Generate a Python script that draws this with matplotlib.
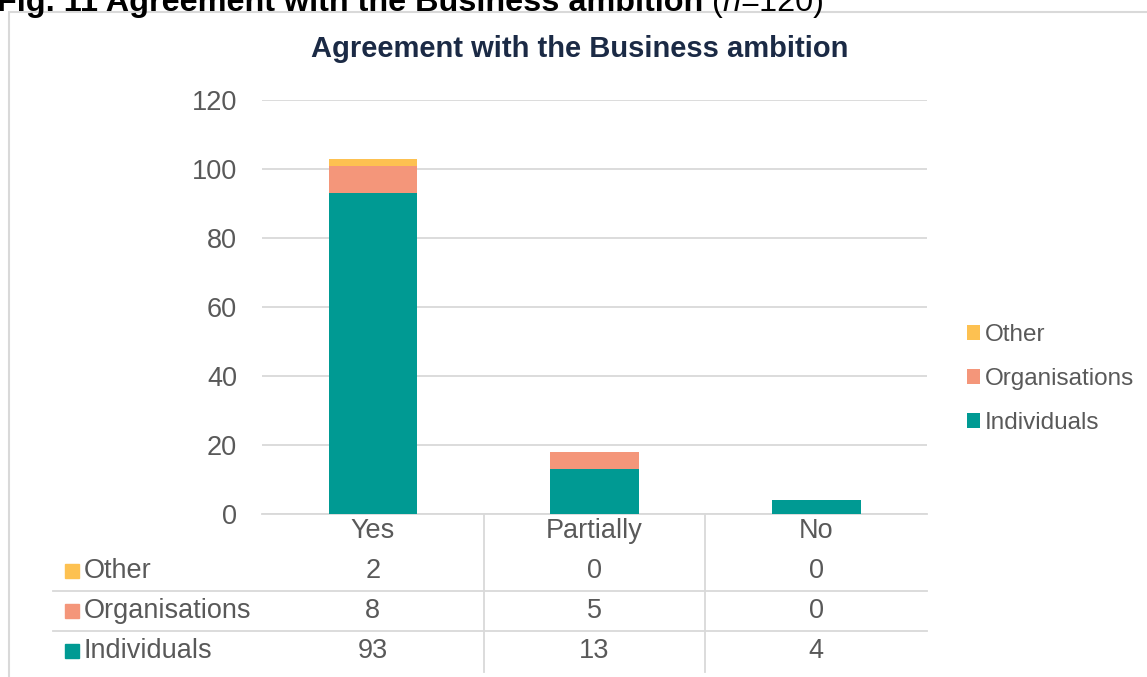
import matplotlib.pyplot as plt
import matplotlib.transforms as mtransforms
from matplotlib.patches import Rectangle
import numpy as np

plt.rcParams['font.family'] = ['Liberation Sans', 'DejaVu Sans']

# responses per answer, stacked bottom to top
answers = ["Yes", "Partially", "No"]
individuals = [93, 13, 4]
organisations = [8, 5, 0]
other = [2, 0, 0]

series_names = ["Individuals", "Organisations", "Other"]
series_vals = [individuals, organisations, other]
series_cols = ["#009A93", "#F4967A", "#FDC151"]

W, H = 1147, 677
fig = plt.figure(figsize=(W / 100, H / 100), dpi=100)
TXT = 19.5
GREY = "#595959"

def fx(px):
    return px / W

def fy(py):
    return 1 - py / H

# outer chart frame
fig.patches.append(Rectangle((fx(9), fy(690)), fx(1160), fy(12) - fy(690),
                             transform=fig.transFigure, fill=False,
                             edgecolor="#d9d9d9", linewidth=1.5))

# caption line above the frame, bold part then the sample size
cap = fig.text(fx(-3), fy(11), "Fig. 11 Agreement with the Business ambition ",
               fontsize=23.3, fontweight="bold", color="black", va="baseline", ha="left")
r = fig.canvas.get_renderer()
x_end = cap.get_window_extent(r).x1
fig.text(x_end / W, fy(11), "(", fontsize=23.3, color="black", va="baseline")
n_txt = fig.text(x_end / W + fx(10), fy(11), "n", fontsize=23.3, style="italic",
                 color="black", va="baseline")
fig.text(n_txt.get_window_extent(r).x1 / W, fy(11), "=120)", fontsize=23.3,
         color="black", va="baseline")

fig.text(fx(580), fy(49), "Agreement with the Business ambition", fontsize=21,
         fontweight="bold", color="#1b2a45", ha="center", va="center")

ax = fig.add_axes([fx(262), fy(514), fx(927) - fx(262), fy(100) - fy(514)])
x = np.arange(len(answers))
bottom = np.zeros(len(answers))
for name, vals, col in zip(series_names, series_vals, series_cols):
    ax.bar(x, vals, width=0.4, bottom=bottom, color=col, label=name, zorder=3)
    bottom += np.array(vals)

ax.set_xlim(-0.5, len(answers) - 0.5)
ax.set_ylim(0, 120)
ax.set_yticks(range(0, 121, 20))
ax.yaxis.grid(True, color="#d9d9d9", linewidth=1.3, zorder=0)
ax.set_xticks([])
for s in ["top", "right", "left"]:
    ax.spines[s].set_visible(False)
ax.spines["bottom"].set_color("#d9d9d9")
ax.spines["bottom"].set_linewidth(1.3)
ax.tick_params(axis="y", length=0, pad=18, labelsize=TXT, labelcolor=GREY)

handles, labels = ax.get_legend_handles_labels()
fig.legend(handles[::-1], labels[::-1], loc="center left",
           bbox_to_anchor=(fx(967), fy(379)), frameon=False, fontsize=17.5,
           labelcolor=GREY, handlelength=0.55, handleheight=0.55,
           handletextpad=0.2, labelspacing=0.9, borderpad=0, borderaxespad=0)

# data table under the axis: x follows the bars, y in figure coords
trans = mtransforms.blended_transform_factory(ax.transData, fig.transFigure)
for i, a in enumerate(answers):
    ax.text(i, fy(531), a, transform=trans, ha="center", va="center",
            fontsize=TXT, color=GREY, clip_on=False)

row_y = [651, 611, 571]
for name, vals, col, ry in zip(series_names, series_vals, series_cols, row_y):
    fig.patches.append(Rectangle((fx(65), fy(ry + 7)), fx(14), fy(ry - 7) - fy(ry + 7),
                                 transform=fig.transFigure, color=col))
    fig.text(fx(84), fy(ry), name, fontsize=TXT, color=GREY, va="center")
    for i, v in enumerate(vals):
        ax.text(i, fy(ry), str(v), transform=trans, ha="center", va="center",
                fontsize=TXT, color=GREY, clip_on=False)

for ly in [591, 631]:
    fig.add_artist(plt.Line2D([fx(53), fx(927)], [fy(ly), fy(ly)],
                              color="#d9d9d9", linewidth=1.3))
for i in range(1, len(answers)):
    ax.plot([i - 0.5, i - 0.5], [fy(514), fy(672)], transform=trans,
            color="#d9d9d9", linewidth=1.3, clip_on=False)

fig.savefig("out.png", dpi=100)
